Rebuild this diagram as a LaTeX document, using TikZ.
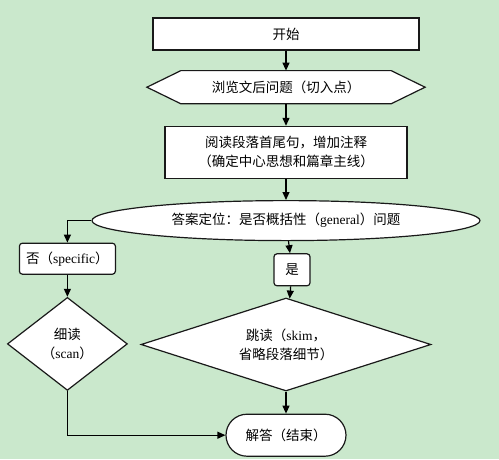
\documentclass[tikz,border=0pt]{standalone}
\usepackage{fontspec}
\setmainfont{Liberation Serif}
\newfontfamily\cjk{Noto Sans CJK SC}
\usetikzlibrary{positioning,shapes.geometric,arrows.meta,backgrounds}
\definecolor{bggreen}{RGB}{202,232,204}

\begin{document}
\begin{tikzpicture}[x=1pt,y=1pt,>={Triangle[length=8pt,width=7pt]},
    base node/.style={draw=black!90,fill=white,line width=1.2pt,inner sep=2pt,align=center,
        font=\fontsize{13.5}{19}\cjk},
    proc node/.style={base node,rectangle},
    hex node/.style={base node,rectangle,draw=none,fill=none},
    ask node/.style={base node,ellipse},
    tag node/.style={base node,rectangle,rounded corners=3pt},
    read node/.style={base node,diamond},
    stop node/.style={base node,rectangle,rounded corners=21pt}]
    \useasboundingbox (0,0) rectangle (499,-459);

    \node[proc node,minimum width=266pt,minimum height=32pt] (start) at (286,-34) {开始};
    \node[hex node,minimum width=277pt,minimum height=32pt] (browse) [below = 20pt of start] {浏览文后问题（切入点）};
    \node[proc node,minimum width=242pt,minimum height=52pt] (read) [below = 22pt of browse] {阅读段落首尾句，增加注释\\（确定中心思想和篇章主线）};
    \node[ask node,minimum width=388pt,minimum height=40pt] (locate) [below = 21pt of read] {答案定位：是否概括性（{\rmfamily general}）问题};
    \node[tag node,minimum width=96pt,minimum height=31pt] (no) [below = 22pt of locate.west,xshift=-24pt] {否（{\rmfamily specific}）};
    \node[read node,aspect=1.29,minimum width=120pt,minimum height=93pt] (scan) [below = 22pt of no] {细读\\（{\rmfamily scan}）};
    \node[tag node,minimum width=36pt,minimum height=32pt] (yes) [below = 12pt of locate,xshift=6pt] {是};
    \node[read node,aspect=3.12,minimum width=290pt,minimum height=93pt] (skim) [below = 11pt of yes,xshift=-6pt] {跳读（{\rmfamily skim}，\\省略段落细节）};
    \node[stop node,minimum width=120pt,minimum height=42pt] (finish) [below = 22pt of skim] {解答（结束）};

    % background and the hexagon behind its text
    \begin{scope}[on background layer]
    \fill[bggreen] (0,0) rectangle (499,-459);
    \draw[fill=white,line width=1.2pt,draw=black!90] (browse.west) -- ([xshift=34pt]browse.north west)
        -- ([xshift=-34pt]browse.north east) -- (browse.east)
        -- ([xshift=-34pt]browse.south east) -- ([xshift=34pt]browse.south west) -- cycle;
    \end{scope}

    \path[draw,->,line width=1.2pt]
    (start) edge (browse)
    (browse) edge (read)
    (read) edge (locate)
    (locate) edge (yes)
    (yes) edge (skim)
    (no) edge (scan)
    (skim) edge (finish)
    ;
    \draw[->,line width=1.2pt] (locate.west) -| (no.north);
    \draw[->,line width=1.2pt] (scan.south) |- (finish.west);
\end{tikzpicture}
\end{document}
